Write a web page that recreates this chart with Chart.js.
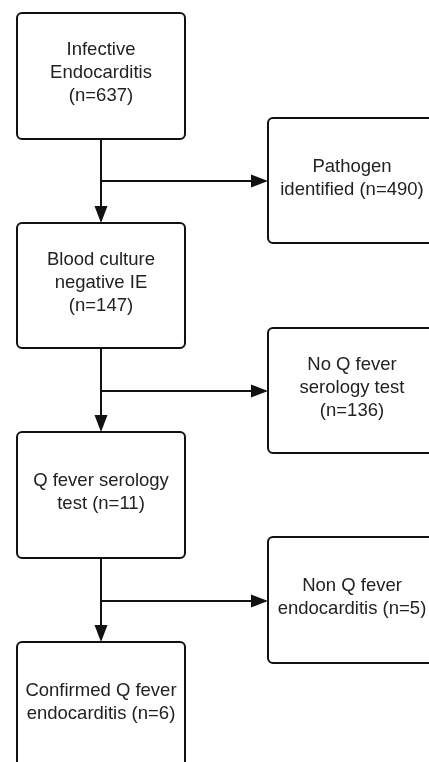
<!DOCTYPE html>
<html>
<head>
<meta charset="utf-8">
<script src="https://cdn.jsdelivr.net/npm/chart.js@4/dist/chart.umd.min.js"></script>
<style>
html,body{margin:0;padding:0;background:#fff;}
#wrap{width:429px;height:762px;position:relative;}
</style>
</head>
<body>
<div id="wrap"><canvas id="c"></canvas></div>
<script>
// ---- data ----
const nodeLabels = [
  'Infective\nEndocarditis',
  'Pathogen\nidentified',
  'Blood culture\nnegative IE',
  'No Q fever\nserology test',
  'Q fever serology\ntest',
  'Non Q fever\nendocarditis',
  'Confirmed Q fever\nendocarditis'
];
const nodeCounts = [637, 490, 147, 136, 11, 5, 6];
// count on its own line (true) or appended to last line (false)
const countOwnLine = [true, false, true, true, false, false, false];
// flow: [from, to]
const mainFlow = [[0, 2], [2, 4], [4, 6]];
const sideFlow = [[0, 1], [2, 3], [4, 5]];

// ---- layout (positions in canvas units) ----
const boxes = [
  {x0: 17,  x1: 185, y0: 13,  y1: 139},
  {x0: 268, x1: 436, y0: 118, y1: 243},
  {x0: 17,  x1: 185, y0: 223, y1: 348},
  {x0: 268, x1: 436, y0: 328, y1: 453},
  {x0: 17,  x1: 185, y0: 432, y1: 558},
  {x0: 268, x1: 436, y0: 537, y1: 663},
  {x0: 17,  x1: 185, y0: 642, y1: 800}
];
const branchY = [181, 391, 601];

function nodeText(i) {
  const lines = nodeLabels[i].split('\n');
  const c = '(n=' + nodeCounts[i] + ')';
  if (countOwnLine[i]) lines.push(c);
  else lines[lines.length - 1] += ' ' + c;
  return lines;
}

const flowPlugin = {
  id: 'flow',
  afterDraw(chart) {
    const ctx = chart.ctx;
    const xs = chart.scales.x, ys = chart.scales.y;
    const X = v => xs.getPixelForValue(v);
    const Y = v => ys.getPixelForValue(v);
    ctx.save();
    ctx.strokeStyle = '#111';
    ctx.fillStyle = '#111';
    ctx.lineWidth = 2;
    ctx.lineJoin = 'round';

    function arrowHead(tx, ty, dir) {
      const L = 17, W = 6.5;
      ctx.beginPath();
      if (dir === 'down') {
        ctx.moveTo(tx, ty);
        ctx.lineTo(tx - W, ty - L);
        ctx.lineTo(tx + W, ty - L);
      } else {
        ctx.moveTo(tx, ty);
        ctx.lineTo(tx - L, ty - W);
        ctx.lineTo(tx - L, ty + W);
      }
      ctx.closePath();
      ctx.fill();
    }

    // boxes
    boxes.forEach((b, i) => {
      const x0 = X(b.x0), x1 = X(b.x1), y0 = Y(b.y0), y1 = Y(b.y1);
      ctx.beginPath();
      ctx.roundRect(x0, y0, x1 - x0, y1 - y0, 5);
      ctx.fillStyle = '#fff';
      ctx.fill();
      ctx.stroke();
      // text
      const lines = nodeText(i);
      ctx.fillStyle = '#222';
      ctx.font = '18.5px "Liberation Sans", Arial, sans-serif';
      ctx.textAlign = 'center';
      ctx.textBaseline = 'middle';
      const lh = 23;
      const cx = (x0 + x1) / 2;
      const cy = Y(b.y0 + 60);
      const start = cy - (lines.length - 1) * lh / 2;
      lines.forEach((t, k) => ctx.fillText(t, cx, start + k * lh));
    });

    ctx.fillStyle = '#111';
    // main vertical arrows
    mainFlow.forEach(([a, b]) => {
      const A = boxes[a], B = boxes[b];
      const cx = X((A.x0 + A.x1) / 2);
      const yA = Y(A.y1), yB = Y(B.y0);
      ctx.beginPath();
      ctx.moveTo(cx, yA);
      ctx.lineTo(cx, yB - 10);
      ctx.stroke();
      arrowHead(cx, yB, 'down');
    });
    // side arrows
    sideFlow.forEach(([a, b], k) => {
      const A = boxes[a], B = boxes[b];
      const cx = X((A.x0 + A.x1) / 2);
      const y = Y(branchY[k]);
      const xB = X(B.x0);
      ctx.beginPath();
      ctx.moveTo(cx, y);
      ctx.lineTo(xB - 10, y);
      ctx.stroke();
      arrowHead(xB, y, 'right');
    });
    ctx.restore();
  }
};

new Chart(document.getElementById('c'), {
  type: 'scatter',
  data: { datasets: [{ data: [] }] },
  options: {
    responsive: true,
    maintainAspectRatio: false,
    animation: false,
    layout: { padding: 0 },
    plugins: { legend: { display: false }, tooltip: { enabled: false } },
    scales: {
      x: { type: 'linear', min: 0, max: 429, display: false },
      y: { type: 'linear', min: 0, max: 762, reverse: true, display: false }
    }
  },
  plugins: [flowPlugin]
});
</script>
</body>
</html>
